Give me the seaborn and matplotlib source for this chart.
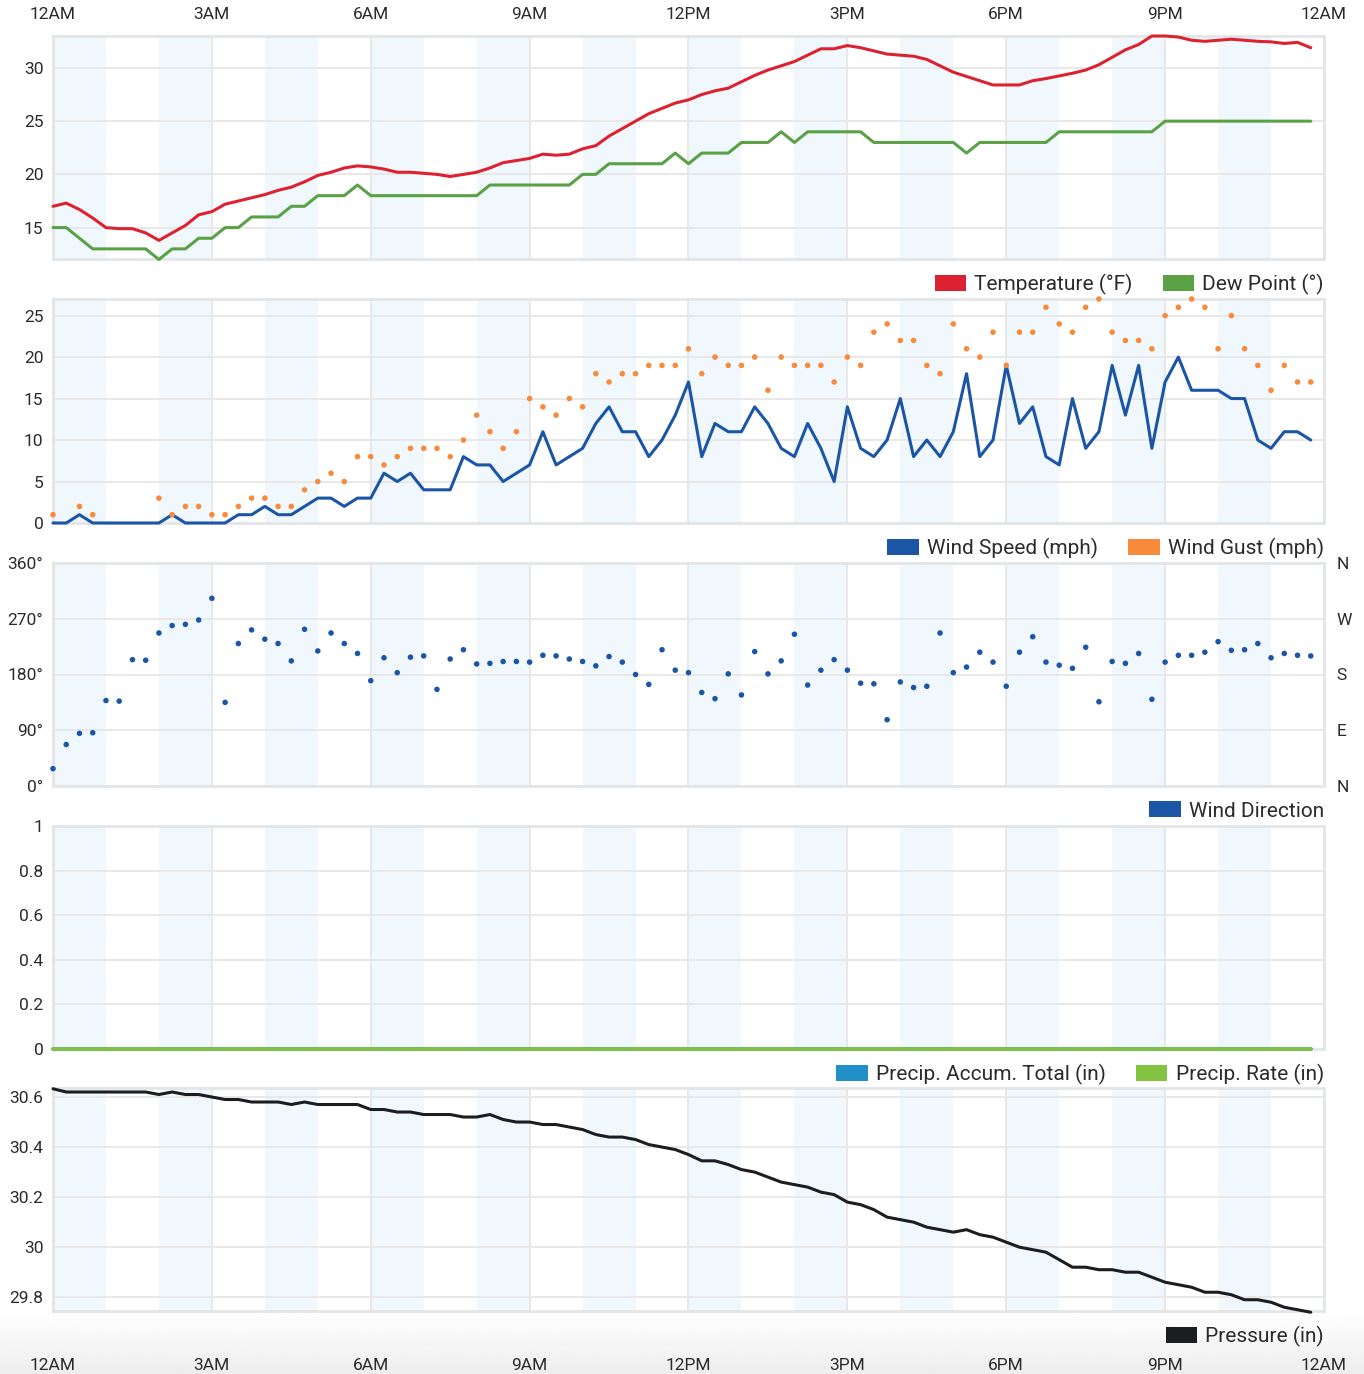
import matplotlib
matplotlib.use('Agg')
import numpy as np
import pandas as pd
import matplotlib.pyplot as plt
from matplotlib.patches import Patch
import seaborn as sns

# readings every 15 minutes over one day
hours = [i * 0.25 for i in range(96)]

temperature = [17.0, 17.3, 16.7, 15.9, 15.0, 14.9, 14.9, 14.5, 13.8, 14.5, 15.2, 16.2,
               16.5, 17.2, 17.5, 17.8, 18.1, 18.5, 18.8, 19.3, 19.9, 20.2, 20.6, 20.8,
               20.7, 20.5, 20.2, 20.2, 20.1, 20.0, 19.8, 20.0, 20.2, 20.6, 21.1, 21.3,
               21.5, 21.9, 21.8, 21.9, 22.4, 22.7, 23.6, 24.3, 25.0, 25.7, 26.2, 26.7,
               27.0, 27.5, 27.85, 28.1, 28.7, 29.3, 29.8, 30.2, 30.6, 31.2, 31.8, 31.8,
               32.1, 31.9, 31.6, 31.3, 31.2, 31.1, 30.8, 30.2, 29.6, 29.2, 28.8, 28.4,
               28.4, 28.4, 28.8, 29.0, 29.25, 29.5, 29.8, 30.3, 31.0, 31.7, 32.2, 33.0,
               33.0, 32.9, 32.6, 32.5, 32.6, 32.7, 32.6, 32.5, 32.45, 32.3, 32.4, 31.9]

dew_point = [15, 15, 14, 13, 13, 13, 13, 13, 12, 13, 13, 14,
             14, 15, 15, 16, 16, 16, 17, 17, 18, 18, 18, 19,
             18, 18, 18, 18, 18, 18, 18, 18, 18, 19, 19, 19,
             19, 19, 19, 19, 20, 20, 21, 21, 21, 21, 21, 22,
             21, 22, 22, 22, 23, 23, 23, 24, 23, 24, 24, 24,
             24, 24, 23, 23, 23, 23, 23, 23, 23, 22, 23, 23,
             23, 23, 23, 23, 24, 24, 24, 24, 24, 24, 24, 24,
             25, 25, 25, 25, 25, 25, 25, 25, 25, 25, 25, 25]

wind_speed = [0, 0, 1, 0, 0, 0, 0, 0, 0, 1, 0, 0,
              0, 0, 1, 1, 2, 1, 1, 2, 3, 3, 2, 3,
              3, 6, 5, 6, 4, 4, 4, 8, 7, 7, 5, 6,
              7, 11, 7, 8, 9, 12, 14, 11, 11, 8, 10, 13,
              17, 8, 12, 11, 11, 14, 12, 9, 8, 12, 9, 5,
              14, 9, 8, 10, 15, 8, 10, 8, 11, 18, 8, 10,
              19, 12, 14, 8, 7, 15, 9, 11, 19, 13, 19, 9,
              17, 20, 16, 16, 16, 15, 15, 10, 9, 11, 11, 10]

nan = float('nan')
wind_gust = [1, nan, 2, 1, nan, nan, nan, nan, 3, 1, 2, 2,
             1, 1, 2, 3, 3, 2, 2, 4, 5, 6, 5, 8,
             8, 7, 8, 9, 9, 9, 8, 10, 13, 11, 9, 11,
             15, 14, 13, 15, 14, 18, 17, 18, 18, 19, 19, 19,
             21, 18, 20, 19, 19, 20, 16, 20, 19, 19, 19, 17,
             20, 19, 23, 24, 22, 22, 19, 18, 24, 21, 20, 23,
             19, 23, 23, 26, 24, 23, 26, 27, 23, 22, 22, 21,
             25, 26, 27, 26, 21, 25, 21, 19, 16, 19, 17, 17]

wind_dir = [28, 67, 85, 86, 138, 137, 204, 203, 247, 259, 261, 268,
            303, 135, 230, 252, 237, 230, 202, 253, 218, 247, 230, 214,
            170, 207, 183, 208, 210, 156, 205, 220, 197, 198, 201, 201,
            200, 211, 210, 205, 201, 194, 209, 200, 180, 164, 220, 187,
            183, 151, 141, 181, 147, 217, 181, 202, 245, 163, 187, 204,
            187, 166, 165, 107, 168, 159, 161, 247, 183, 192, 216, 200,
            161, 216, 241, 200, 195, 190, 224, 136, 201, 198, 214, 140,
            200, 211, 211, 216, 233, 219, 220, 230, 207, 214, 211, 210]

precip_total = [0.0] * 96
precip_rate = [0.0] * 96

pressure = [30.633, 30.62, 30.62, 30.62, 30.62, 30.62, 30.62, 30.62, 30.61, 30.62, 30.61, 30.61,
            30.60, 30.59, 30.59, 30.58, 30.58, 30.58, 30.57, 30.58, 30.57, 30.57, 30.57, 30.57,
            30.55, 30.55, 30.54, 30.54, 30.53, 30.53, 30.53, 30.52, 30.52, 30.53, 30.51, 30.50,
            30.50, 30.49, 30.49, 30.48, 30.47, 30.45, 30.44, 30.44, 30.43, 30.41, 30.40, 30.39,
            30.37, 30.345, 30.345, 30.33, 30.31, 30.30, 30.28, 30.26, 30.25, 30.24, 30.22, 30.21,
            30.18, 30.17, 30.15, 30.12, 30.11, 30.10, 30.08, 30.07, 30.06, 30.07, 30.05, 30.04,
            30.02, 30.00, 29.99, 29.98, 29.95, 29.92, 29.92, 29.91, 29.91, 29.90, 29.90, 29.88,
            29.86, 29.85, 29.84, 29.82, 29.82, 29.81, 29.79, 29.79, 29.78, 29.76, 29.75, 29.74]

time_labels = ['12AM', '3AM', '6AM', '9AM', '12PM', '3PM', '6PM', '9PM', '12AM']

df = pd.DataFrame({'hour': hours, 'temperature': temperature, 'dew_point': dew_point,
                   'wind_speed': wind_speed, 'wind_gust': wind_gust, 'wind_dir': wind_dir,
                   'precip_total': precip_total, 'precip_rate': precip_rate,
                   'pressure': pressure})

sns.set_style('white')
plt.rcParams['font.family'] = ['Roboto', 'DejaVu Sans']

RED = '#dc2230'
GREEN = '#5aa146'
BLUE = '#1b56a6'
ORANGE = '#f78a3b'
PBLUE = '#2190c8'
PGREEN = '#82c341'
BLACK = '#1b1d20'
GRID = '#e8e8e8'
FRAME = '#e3e6e8'
BAND = '#f1f8fd'
TXT = '#2b2b2b'

W, H = 1364, 1374
fig = plt.figure(figsize=(W / 100, H / 100), dpi=100)

# light grey fade under the last panel
bg = fig.add_axes([0, 0, 1, 63 / H], zorder=-5)
bg.imshow(np.linspace(1.0, 0.93, 50).reshape(-1, 1), cmap='gray', vmin=0, vmax=1,
          aspect='auto', extent=[0, 1, 0, 1])
bg.axis('off')


def panel(top, bottom):
    return fig.add_axes([53 / W, 1 - bottom / H, (1324 - 53) / W, (bottom - top) / H])


def style(ax, ylim, yticks, ylabels):
    ax.set_xlim(0, 24)
    ax.set_ylim(*ylim)
    for h in range(0, 24, 2):
        ax.axvspan(h, h + 1, color=BAND, lw=0, zorder=0)
    ax.set_xticks(range(0, 25, 3))
    ax.set_xticklabels(time_labels)
    ax.set_yticks(yticks)
    ax.set_yticklabels(ylabels)
    ax.grid(True, color=GRID, lw=1.4)
    ax.set_axisbelow(True)
    for s in ax.spines.values():
        s.set_color(FRAME)
        s.set_linewidth(2)
    ax.tick_params(length=0, labelsize=12.5, colors=TXT, pad=7)
    ax.tick_params(axis='x', labelbottom=False)
    ax.set_xlabel('')
    ax.set_ylabel('')


def legend(ax, items):
    handles = [Patch(facecolor=c, edgecolor='none', label=l) for l, c in items]
    ax.legend(handles=handles, loc='center right', bbox_to_anchor=(1.0, -25 / 223),
              ncol=len(items), frameon=False, fontsize=15, handlelength=1.5,
              handleheight=0.8, handletextpad=0.4, columnspacing=1.45,
              borderpad=0, borderaxespad=0, labelcolor=TXT)


line_kw = dict(lw=2.2, estimator=None, clip_on=False, zorder=3)
dot_kw = dict(s=16, edgecolor='none', clip_on=False, zorder=4)

# Temperature / dew point
ax1 = panel(36, 259)
sns.lineplot(data=df, x='hour', y='temperature', color=RED, ax=ax1, **line_kw)
sns.lineplot(data=df, x='hour', y='dew_point', color=GREEN, ax=ax1, **line_kw)
style(ax1, (12.05, 33.0), [15, 20, 25, 30], ['15', '20', '25', '30'])
ax1.tick_params(axis='x', labeltop=True, pad=10)
legend(ax1, [('Temperature (°F)', RED), ('Dew Point (°)', GREEN)])

# Wind speed / gust
ax2 = panel(299, 523)
sns.lineplot(data=df, x='hour', y='wind_speed', color=BLUE, ax=ax2, **line_kw)
sns.scatterplot(data=df, x='hour', y='wind_gust', color=ORANGE, ax=ax2, **dot_kw)
style(ax2, (0, 27), [0, 5, 10, 15, 20, 25], ['0', '5', '10', '15', '20', '25'])
legend(ax2, [('Wind Speed (mph)', BLUE), ('Wind Gust (mph)', ORANGE)])

# Wind direction
ax3 = panel(563, 786)
sns.scatterplot(data=df, x='hour', y='wind_dir', color=BLUE, ax=ax3, **dot_kw)
style(ax3, (0, 360), [0, 90, 180, 270, 360], ['0°', '90°', '180°', '270°', '360°'])
tw = ax3.twinx()
tw.set_ylim(0, 360)
tw.set_yticks([0, 90, 180, 270, 360])
tw.set_yticklabels(['N', 'E', 'S', 'W', 'N'])
tw.tick_params(length=0, labelsize=12.5, colors=TXT, pad=9)
for s in tw.spines.values():
    s.set_visible(False)
legend(ax3, [('Wind Direction', BLUE)])

# Precipitation
ax4 = panel(826, 1049)
sns.lineplot(data=df, x='hour', y='precip_total', color=PBLUE, ax=ax4,
             **{**line_kw, 'lw': 2.6})
sns.lineplot(data=df, x='hour', y='precip_rate', color=PGREEN, ax=ax4,
             **{**line_kw, 'lw': 2.6})
style(ax4, (0, 1), [0, 0.2, 0.4, 0.6, 0.8, 1], ['0', '0.2', '0.4', '0.6', '0.8', '1'])
legend(ax4, [('Precip. Accum. Total (in)', PBLUE), ('Precip. Rate (in)', PGREEN)])

# Pressure
ax5 = panel(1088, 1311)
sns.lineplot(data=df, x='hour', y='pressure', color=BLACK, ax=ax5, **line_kw)
style(ax5, (29.745, 30.636), [29.8, 30.0, 30.2, 30.4, 30.6],
      ['29.8', '30', '30.2', '30.4', '30.6'])
ax5.tick_params(axis='x', labelbottom=True, pad=34)
legend(ax5, [('Pressure (in)', BLACK)])

fig.savefig('out.png', dpi=100)
